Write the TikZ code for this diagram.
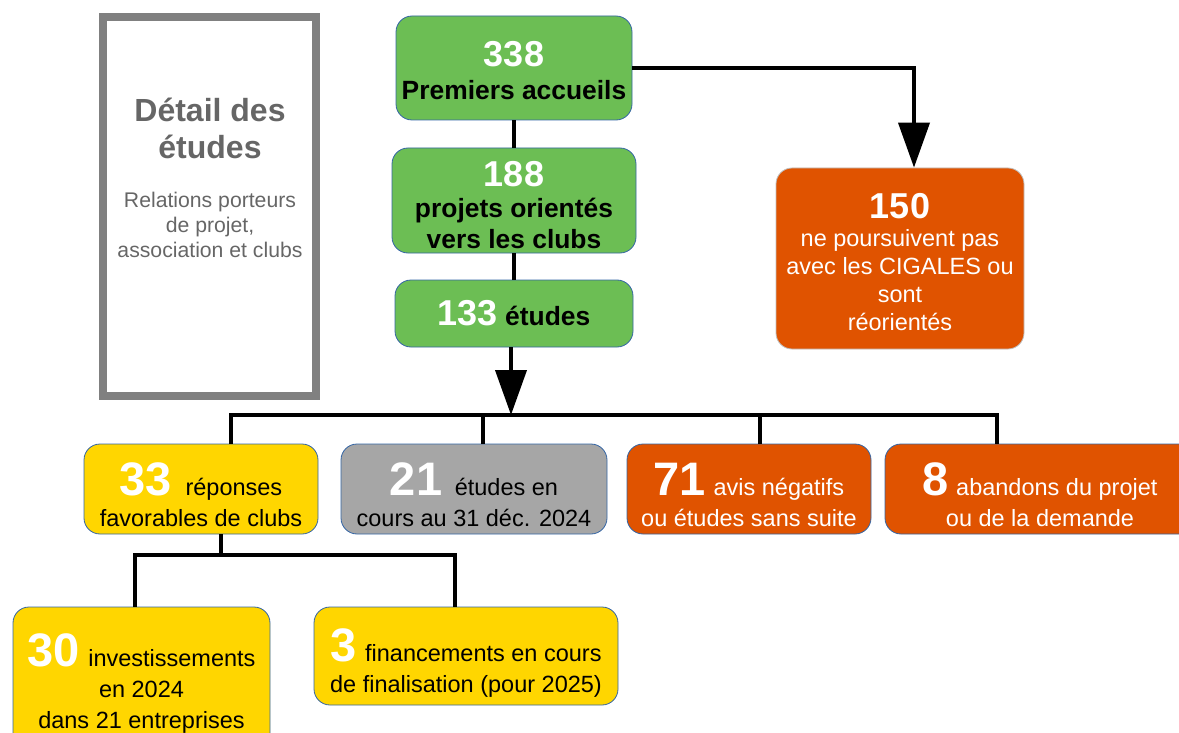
\documentclass[tikz,border=0pt]{standalone}
\usepackage{fontspec}
\setmainfont{Liberation Sans}
\usetikzlibrary{arrows.meta,positioning}
\definecolor{vert}{RGB}{108,190,84}
\definecolor{rouille}{RGB}{224,83,0}
\definecolor{jaune}{RGB}{255,214,0}
\definecolor{grisbox}{RGB}{166,166,166}
\definecolor{cadre}{RGB}{128,128,128}
\definecolor{titre}{RGB}{102,102,102}
\definecolor{bord}{RGB}{52,101,164}

\begin{document}
\begin{tikzpicture}[x=1pt,y=-1pt,
	box/.style={draw=bord, line width=0.8pt, rounded corners=16pt, align=center, inner sep=0pt, font=\fontsize{23.5}{31}\selectfont},
	link/.style={line width=4pt},
	arrow/.style={link, -{Triangle[length=45pt,width=31pt]}}]
	\newcommand\Num[1]{{\fontsize{47}{31}\selectfont\bfseries\color{white}#1}}
	\newcommand\Mid[1]{{\fontsize{36}{33}\selectfont\bfseries\color{white}#1}}
	\newcommand\Cale[1]{\rule{0pt}{#1pt}}

	\useasboundingbox (0,0) rectangle (1179,733);
	\clip (0,0) rectangle (1179,733);

	% cadre de gauche
	\node[draw=cadre, line width=8pt, minimum width=213pt, minimum height=379pt, inner sep=0pt] (cadre) at (209.5,206.5) {};
	\node[text=titre, font=\fontsize{32}{37}\selectfont\bfseries, align=center] (titre) at (210,128) {Détail des\\études};
	\node[text=titre, font=\fontsize{21.2}{25}\selectfont, align=center] (soustitre) at (210,225) {Relations porteurs\\de projet,\\association et clubs};

	% colonne centrale
	\node[box, fill=vert, minimum width=236pt, minimum height=104pt, font=\fontsize{26.4}{33}\selectfont\bfseries] (n338) at (514,68) {\Cale{30}\Mid{338}\\Premiers accueils};
	\node[box, fill=vert, minimum width=244pt, minimum height=105pt, font=\fontsize{26.4}{31}\selectfont\bfseries] (n188) at (514,200.5) {\Cale{34}\Mid{188}\\projets orientés\\vers les clubs};
	\node[box, fill=vert, minimum width=238pt, minimum height=67pt, font=\fontsize{26.4}{31}\selectfont\bfseries] (n133) at (514,313.5) {\Mid{133} études};
	\node[box, draw=gray!50, fill=rouille, text=white, minimum width=248pt, minimum height=181pt, font=\fontsize{23.5}{28}\selectfont] (n150) at (900,258.5) {\Cale{33}\Mid{150}\\ne poursuivent pas\\avec les CIGALES ou\\sont\\réorientés};

	% ligne du bas
	\node[box, fill=jaune, minimum width=234pt, minimum height=90pt] (n33) at (201,489) {\Cale{45}\Num{33}\hspace{7pt} réponses\\favorables de clubs};
	\node[box, fill=grisbox, minimum width=266pt, minimum height=90pt] (n21) at (474,489) {\Cale{45}\Num{21}\hspace{6pt} études en\\cours au 31 déc. 2024};
	\node[box, fill=rouille, text=white, minimum width=244pt, minimum height=90pt] (n71) at (749,489) {\Cale{45}\Num{71}\hspace{1pt} avis négatifs\\ou études sans suite};
	\node[box, fill=rouille, text=white, minimum width=310pt, minimum height=90pt] (n8) at (1040,489) {\Cale{45}\Num{8}\hspace{1pt} abandons du projet\\ou de la demande};
	\node[box, fill=jaune, minimum width=257pt, minimum height=150pt] (n30) at (141.5,682) {\Cale{35}\Num{30}\hspace{2pt} investissements\\en 2024\\dans 21 entreprises};
	\node[box, fill=jaune, minimum width=304pt, minimum height=98pt] (n3) at (466,656) {\Cale{47}\Num{3}\hspace{2pt} financements en cours\\de finalisation (pour 2025)};

	% liaisons
	\coordinate (bus) at (511,415);
	\coordinate (fourche) at (221,555);
	\draw[link] (n338) -- (n188);
	\draw[link] (n188) -- (n133);
	\draw[arrow] (n133.south -| bus) -- (bus);
	\draw[arrow] (n338.east) -| ([xshift=14pt]n150.north);
	\draw[link] ([xshift=30pt]n33.north) |- (bus) -| ([xshift=-43pt]n8.north);
	\path ([xshift=9pt]n21.north) coordinate (d21) ([xshift=11pt]n71.north) coordinate (d71);
	\draw[link] (d21) -- (d21 |- bus);
	\draw[link] (d71) -- (d71 |- bus);
	\draw[link] (n33.south -| fourche) -- (fourche);
	\draw[link] ([xshift=-6.5pt]n30.north) |- (fourche) -| ([xshift=-11pt]n3.north);
\end{tikzpicture}
\end{document}
